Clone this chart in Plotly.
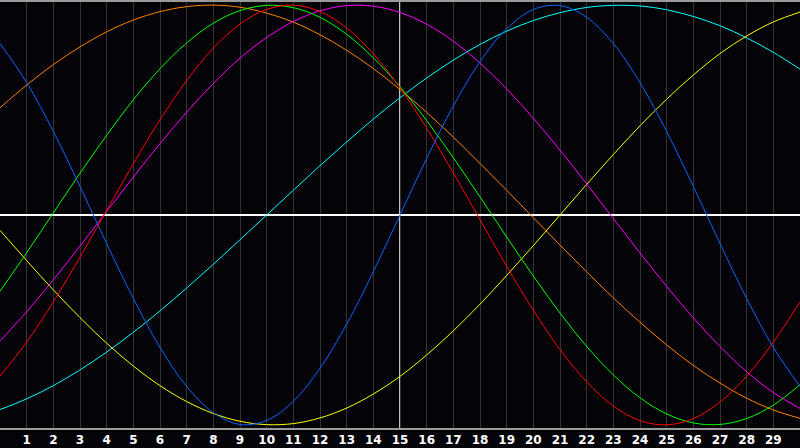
import plotly.graph_objs as go

# day index 0..30 (-1 .. 1)
days = list(range(31))
day_labels = [str(d) for d in range(1, 30)]

physical = [0.817, 0.631, 0.398, 0.136, -0.136, -0.398, -0.631, -0.817, -0.942, -0.998,
            -0.979, -0.888, -0.731, -0.520, -0.270, 0.0, 0.270, 0.520, 0.731, 0.888,
            0.979, 0.998, 0.942, 0.817, 0.631, 0.398, 0.136, -0.136, -0.398, -0.631, -0.817]
emotional = [-0.768, -0.606, -0.414, -0.201, 0.022, 0.244, 0.454, 0.641, 0.795, 0.910,
             0.980, 1.000, 0.970, 0.891, 0.768, 0.606, 0.414, 0.201, -0.022, -0.244,
             -0.454, -0.641, -0.795, -0.910, -0.980, -1.000, -0.970, -0.891, -0.768, -0.606, -0.414]
intellectual = [-0.363, -0.180, 0.010, 0.199, 0.380, 0.549, 0.697, 0.820, 0.914, 0.974,
                0.999, 0.988, 0.942, 0.861, 0.749, 0.611, 0.450, 0.273, 0.086, -0.105,
                -0.291, -0.467, -0.626, -0.762, -0.871, -0.948, -0.991, -0.998, -0.970, -0.906, -0.809]
intuitive = [-0.601, -0.461, -0.309, -0.148, 0.017, 0.181, 0.340, 0.490, 0.627, 0.747,
             0.846, 0.922, 0.973, 0.998, 0.995, 0.965, 0.909, 0.828, 0.724, 0.601,
             0.461, 0.309, 0.148, -0.017, -0.181, -0.340, -0.490, -0.627, -0.747, -0.846, -0.922]
aesthetic = [-0.073, -0.217, -0.357, -0.489, -0.611, -0.720, -0.813, -0.889, -0.946, -0.983,
             -0.999, -0.994, -0.967, -0.920, -0.853, -0.769, -0.667, -0.552, -0.425, -0.288,
             -0.146, 0.0, 0.146, 0.288, 0.425, 0.552, 0.667, 0.769, 0.853, 0.920, 0.967]
awareness = [0.511, 0.619, 0.717, 0.801, 0.873, 0.929, 0.969, 0.993, 1.000, 0.990,
             0.962, 0.919, 0.859, 0.785, 0.698, 0.598, 0.489, 0.371, 0.246, 0.118,
             -0.013, -0.143, -0.271, -0.395, -0.511, -0.619, -0.717, -0.801, -0.873, -0.929, -0.969]
spiritual = [-0.927, -0.876, -0.813, -0.738, -0.653, -0.559, -0.457, -0.348, -0.235, -0.118,
             0.0, 0.118, 0.235, 0.348, 0.457, 0.559, 0.653, 0.738, 0.813, 0.876,
             0.927, 0.964, 0.989, 0.999, 0.996, 0.978, 0.946, 0.902, 0.844, 0.775, 0.695]

series = [
    ('Spiritual', spiritual, '#00ffff'),
    ('Aesthetic', aesthetic, '#ffff00'),
    ('Awareness', awareness, '#ff8000'),
    ('Intuitive', intuitive, '#ff00ff'),
    ('Intellectual', intellectual, '#00ff00'),
    ('Emotional', emotional, '#ff0000'),
    ('Physical', physical, '#0a64ff'),
]

fig = go.Figure()
for name, vals, color in series:
    fig.add_trace(go.Scatter(x=days, y=vals, mode='lines', name=name,
                             line=dict(color=color, width=1, shape='spline', smoothing=1.0)))

# today marker
fig.add_shape(type='line', x0=15, x1=15, y0=0, y1=1, yref='paper',
              line=dict(color='white', width=1.5), layer='below')

fig.update_layout(
    width=800, height=448,
    paper_bgcolor='#040408',
    plot_bgcolor='#040408',
    showlegend=False,
    margin=dict(l=0, r=0, t=0, b=20),
    xaxis=dict(range=[0, 30], tickvals=list(range(1, 30)), ticktext=day_labels,
               showgrid=True, gridcolor='#333333', gridwidth=1, zeroline=False,
               showline=True, linecolor='#9a9a9a', linewidth=2, mirror=True, ticks='',
               tickfont=dict(family='DejaVu Sans', size=12, color='white', weight='bold')),
    yaxis=dict(range=[-1.015, 1.015], showgrid=False, showticklabels=False,
               zeroline=True, zerolinecolor='white', zerolinewidth=1.5,
               showline=True, linecolor='#9a9a9a', linewidth=2, ticks=''),
)

fig.write_html("out.html", config={'displayModeBar': False},
               post_script="document.body.style.margin='0';document.body.style.background='#040408';")
